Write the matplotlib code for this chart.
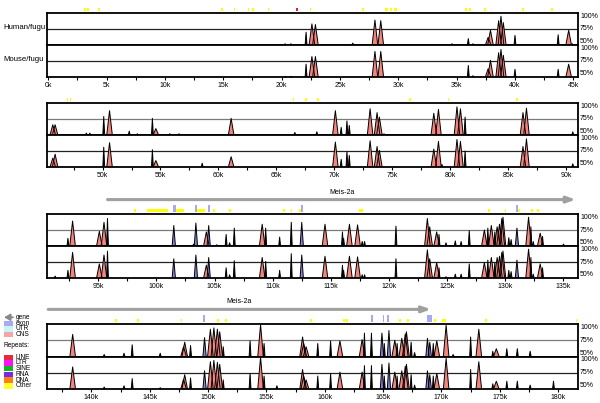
import numpy as np
import matplotlib.pyplot as plt
from matplotlib.transforms import blended_transform_factory

plt.rcParams['font.family'] = ['Liberation Sans', 'DejaVu Sans']

# ---- data (positions in kb, conservation in %) ----
row_start = [-0.1, 45.2, 90.6, 136.2]
row_end = [45.4, 91.05, 136.25, 181.7]
track_names = ["Human/fugu", "Mouse/fugu"]

# row 1
r1_pos = [20.3, 20.8, 22.1, 22.6, 22.9, 26.1, 28.0, 28.5, 34.6, 36.0, 36.4, 37.7, 37.9,
          38.6, 38.8, 39.0, 40.0, 43.7, 44.6, 44.9]
r1_hum = [52, 52, 70, 83, 82, 53, 89, 88, 52, 60, 52, 62, 73, 88, 95, 85, 65, 66, 73, 52]
r1_mou = [51, 51, 70, 82, 82, 50, 90, 90, 50, 68, 52, 63, 76, 88, 93, 84, 62, 62, 70, 50]
r1_type = ['-', '-', '-', 'c', 'c', '-', 'c', 'c', '-', '-', '-', 'c', 'c', 'c', 'c', 'c',
           '-', '-', 'c', '-']

# row 2
r2_pos = [45.7, 45.9, 48.6, 48.9, 50.1, 50.6, 52.3, 53.0, 54.3, 54.6, 55.8, 56.6, 58.6, 61.1,
          66.6, 68.5, 70.1, 70.6, 71.1, 71.3, 73.1, 73.7, 73.9, 74.3, 78.6, 79.0, 79.3, 80.6,
          80.9, 81.3, 86.3, 86.6, 90.6]
r2_hum = [66, 66, 53, 53, 79, 88, 56, 52, 76, 60, 52, 52, 50, 76, 54, 55, 88, 62, 72, 65,
          91, 85, 78, 52, 84, 90, 50, 94, 91, 78, 85, 92, 55]
r2_mou = [64, 70, 50, 50, 81, 88, 50, 50, 77, 60, 50, 50, 56, 66, 50, 50, 89, 62, 74, 68,
          91, 82, 76, 50, 78, 90, 54, 93, 90, 75, 82, 94, 55]
r2_type = ['c', 'c', '-', '-', '-', 'c', '-', '-', '-', 'c', '-', '-', '-', 'c', '-', '-',
           'c', '-', '-', '-', 'c', 'c', 'c', '-', 'c', 'c', '-', 'c', 'c', '-', 'c', 'c', '-']

# row 3
r3_pos = [91.3, 92.4, 92.8, 95.1, 95.5, 95.8, 101.5, 103.2, 103.4, 104.3, 104.5, 105.2, 106.0,
          106.3, 106.7, 109.1, 109.4, 110.6, 111.6, 112.5, 114.5, 116.0, 116.1, 116.6, 117.3,
          117.7, 117.9, 120.6, 123.3, 123.5, 124.1, 124.3, 124.9, 125.7, 126.2, 126.9, 128.2,
          128.5, 128.8, 129.1, 129.3, 129.5, 129.7, 129.8, 130.3, 130.5, 131.0, 132.0, 132.2,
          132.4, 133.0, 133.2, 135.0]
r3_hum = [50, 62, 89, 73, 87, 93, 82, 53, 86, 72, 82, 52, 68, 55, 78, 84, 78, 64, 87, 87,
          84, 72, 62, 84, 83, 57, 57, 81, 93, 80, 72, 68, 55, 58, 57, 74, 75, 78, 82, 72,
          80, 84, 93, 95, 63, 60, 78, 95, 80, 57, 70, 65, 53]
r3_mou = [53, 62, 90, 72, 86, 92, 80, 50, 86, 70, 82, 50, 66, 55, 77, 82, 76, 62, 88, 86,
          84, 70, 62, 84, 83, 55, 55, 80, 94, 80, 74, 66, 52, 56, 56, 72, 74, 78, 82, 74,
          82, 84, 90, 92, 62, 60, 78, 95, 82, 56, 72, 66, 50]
r3_type = ['-', '-', 'c', 'c', 'c', '-', 'e', '-', 'e', 'c', 'e', '-', '-', '-', '-', 'c',
           '-', '-', '-', 'e', 'c', '-', '-', 'c', 'c', '-', '-', '-', 'c', 'c', 'c', '-',
           '-', '-', '-', '-', 'c', '-', 'c', '-', 'c', 'c', 'c', 'c', '-', '-', 'e', 'c',
           '-', '-', 'c', '-', '-']

# row 4
r4_pos = [138.4, 141.1, 142.8, 143.5, 145.9, 147.9, 148.0, 148.5, 149.7, 150.2, 150.5, 150.8,
          151.0, 151.3, 153.6, 154.5, 154.8, 155.9, 158.1, 158.2, 158.4, 159.4, 160.5, 161.3,
          163.2, 163.4, 164.0, 164.9, 165.1, 165.5, 166.0, 166.2, 166.6, 166.9, 167.0, 167.4,
          167.7, 168.8, 169.0, 169.3, 169.6, 170.4, 171.0, 172.5, 173.2, 174.4, 174.7, 175.6,
          176.5, 177.6, 179.6]
r4_hum = [84, 53, 55, 68, 55, 65, 72, 67, 79, 92, 94, 92, 88, 65, 74, 99, 70, 50, 80, 70,
          65, 70, 74, 74, 76, 86, 86, 86, 70, 90, 75, 70, 78, 85, 88, 72, 56, 78, 72, 70,
          74, 98, 53, 80, 92, 58, 62, 62, 62, 58, 50]
r4_mou = [84, 53, 55, 66, 52, 65, 72, 67, 78, 92, 94, 91, 88, 64, 74, 99, 70, 55, 80, 70,
          64, 70, 74, 76, 76, 86, 86, 88, 70, 90, 76, 70, 78, 85, 88, 72, 56, 78, 72, 70,
          74, 97, 50, 80, 92, 58, 62, 62, 62, 56, 62]
r4_type = ['c', '-', '-', '-', '-', 'c', 'c', '-', 'e', 'c', 'c', 'c', 'c', '-', '-', 'c',
           '-', '-', 'c', 'c', 'c', '-', '-', 'c', 'c', '-', '-', 'e', '-', 'e', 'c', '-',
           'c', 'c', 'c', '-', '-', 'e', 'e', '-', 'c', 'c', '-', '-', 'c', '-', 'c', '-',
           '-', '-', '-']

rows = [(r1_pos, r1_hum, r1_mou, r1_type), (r2_pos, r2_hum, r2_mou, r2_type),
        (r3_pos, r3_hum, r3_mou, r3_type), (r4_pos, r4_hum, r4_mou, r4_type)]

# annotation track: (from kb, to kb, kind)  y = other repeat, r = LINE, e = exon
ann = [
    [(3.1, 3.25, 'y'), (3.35, 3.5, 'y'), (4.3, 4.45, 'y'), (14.8, 14.95, 'y'), (15.9, 16.05, 'y'),
     (17.1, 17.25, 'y'), (17.45, 17.6, 'y'), (18.8, 18.95, 'y'), (21.2, 21.45, 'r'),
     (22.4, 22.55, 'y'), (26.9, 27.05, 'y'), (28.9, 29.1, 'y'), (29.3, 29.5, 'y'),
     (29.6, 29.9, 'y'), (35.7, 35.85, 'y'), (36.05, 36.2, 'y'), (37.35, 37.5, 'y'),
     (40.6, 40.75, 'y'), (43.1, 43.25, 'y')],
    [(46.9, 47.05, 'y'), (47.15, 47.3, 'y'), (66.4, 66.55, 'y'), (67.5, 67.65, 'y'),
     (68.5, 68.65, 'y'), (76.5, 76.65, 'y'), (79.8, 79.95, 'y'), (85.7, 85.85, 'y')],
    [(98.1, 98.25, 'y'), (99.2, 101.0, 'y'), (101.7, 102.4, 'y'), (101.45, 101.7, 'e'),
     (103.5, 104.2, 'y'), (103.3, 103.5, 'e'), (104.45, 104.6, 'e'), (104.85, 105.0, 'y'),
     (106.25, 106.4, 'y'), (110.9, 111.05, 'y'), (111.55, 111.7, 'y'), (112.25, 112.4, 'y'),
     (112.45, 112.6, 'e'), (117.45, 117.8, 'y'), (128.55, 128.7, 'y'), (129.95, 130.1, 'y'),
     (131.1, 131.25, 'y'), (130.9, 131.1, 'e'), (132.25, 132.4, 'y'), (132.75, 132.9, 'y')],
    [(142.05, 142.2, 'y'), (143.95, 144.1, 'y'), (147.65, 147.8, 'y'), (149.6, 149.75, 'e'),
     (150.75, 150.9, 'y'), (151.45, 151.6, 'y'), (158.75, 158.9, 'y'), (161.55, 161.7, 'y'),
     (161.85, 162.0, 'y'), (163.95, 164.1, 'e'), (164.95, 165.1, 'e'), (165.35, 165.5, 'e'),
     (166.35, 166.5, 'y'), (167.05, 167.2, 'y'), (168.75, 169.15, 'e'), (169.35, 169.5, 'y'),
     (170.05, 170.2, 'y'), (170.25, 170.4, 'y'), (173.75, 173.9, 'y'), (181.5, 181.65, 'y')],
]

gene_start, gene_end, gene_name = 95.8, 169.1, "Meis-2a"

legend_labels = ["exon", "UTR", "CNS"]
legend_colors = ["#a8a8f4", "#c8f4f4", "#f8a4a4"]
repeat_labels = ["LINE", "LTR", "SINE", "RNA", "DNA", "Other"]
repeat_colors = ["#e8283c", "#ff10ff", "#10b820", "#7a28e8", "#ff8010", "#ffff30"]

# ---- style ----
fill_col = {'c': '#f4847e', 'e': '#8484e4', '-': 'black'}
half_w = {'c': 0.24, 'e': 0.14, '-': 0.08}
ann_col = {'y': '#ffff00', 'r': '#e02030', 'e': '#a8a8f4'}
ann_h = {'y': 0.10, 'r': 0.12, 'e': 0.22}

# pixel rows: (top of track 1, bottom of track 2)
row_px = [(13, 77), (103, 167), (214, 278), (324, 389)]
X0, X1 = 47, 578

fig = plt.figure(figsize=(6, 4.03), dpi=100)


def px_axes(x0, y0, x1, y1):
    return fig.add_axes([x0 / 600, 1 - y1 / 403, (x1 - x0) / 600, (y1 - y0) / 403])


for r, (pos, hum, mou, kinds) in enumerate(rows):
    top, bot = row_px[r]
    mid = (top + bot) / 2
    axs = [px_axes(X0, top, X1, mid), px_axes(X0, mid, X1, bot)]
    for t, (ax, vals) in enumerate(zip(axs, [hum, mou])):
        ax.set_xlim(row_start[r], row_end[r])
        ax.set_ylim(50, 100)
        ax.axhline(75, color='#7a7a7a' if t == 0 and r > 0 else '#222222', lw=0.9, zorder=1)
        for c, h, k in zip(pos, vals, kinds):
            if h <= 50:
                continue
            w = half_w[k]
            xs = [c - w, c, c + w]
            ys = [50, h, 50]
            ax.fill(xs, ys, color=fill_col[k], lw=0, zorder=2)
            ax.plot(xs, ys, color='black', lw=0.7, zorder=3)
        for s in ax.spines.values():
            s.set_linewidth(1.3)
        ax.set_yticks([])
        for yv, lab in [(0.9, "100%"), (0.5, "75%"), (0.1, "50%")]:
            ax.text(1.004, yv, lab, transform=ax.transAxes, fontsize=5, va='center', ha='left')
        if r == 0:
            ax.text(-0.082, 0.55, track_names[t], transform=ax.transAxes, fontsize=5.6,
                    va='center', ha='left')
        if t == 0:
            ax.set_xticks([])
        else:
            first = int(np.ceil(row_start[r] / 2.5)) * 2.5
            ticks = np.arange(first, row_end[r], 2.5)
            ax.set_xticks(ticks)
            ax.set_xticklabels([f"{int(v)}k" if v % 5 == 0 else "" for v in ticks])
            ax.tick_params(axis='x', length=2.5, width=0.8, pad=1, labelsize=5)

    # annotation marks above track 1
    ax = axs[0]
    tr = blended_transform_factory(ax.transData, ax.transAxes)
    for lo, hi, k in ann[r]:
        ax.add_patch(plt.Rectangle((lo, 1.05), hi - lo, ann_h[k], transform=tr,
                                   color=ann_col[k], lw=0, clip_on=False,
                                   zorder=3 if k == 'e' else 2))

    # gene arrow
    g0 = max(gene_start, row_start[r] + 0.1)
    g1 = min(gene_end, row_end[r] - 0.2)
    if g0 < g1:
        ax.annotate("", xy=(g1, 1.45), xytext=(g0, 1.45), xycoords=tr, textcoords=tr,
                    arrowprops=dict(arrowstyle='-|>,head_length=0.5,head_width=0.18',
                                    color='#a0a0a0', lw=2.2, shrinkA=0, shrinkB=0))
        ax.text((g0 + g1) / 2, 1.68, gene_name, transform=tr, fontsize=5, ha='center',
                va='center')

# legend (left of last row)
lax = fig.add_axes([0, 0, 1, 1], facecolor='none')
lax.set_xlim(0, 600)
lax.set_ylim(403, 0)
lax.axis('off')
lax.annotate("", xy=(4, 317.3), xytext=(13, 317.3),
             arrowprops=dict(arrowstyle='-|>,head_length=0.35,head_width=0.2',
                             color='#888888', lw=1.3, shrinkA=0, shrinkB=0))
lax.text(16, 317.3, "gene", fontsize=4.7, va='center')
for i, (lab, col) in enumerate(zip(legend_labels, legend_colors)):
    y = 323.3 + i * 5.6
    lax.add_patch(plt.Rectangle((3.5, y - 2.6), 9.5, 5.2, color=col, lw=0))
    lax.text(16, y, lab, fontsize=4.7, va='center')
lax.text(4, 345.7, "Repeats:", fontsize=4.7, va='center')
for i, (lab, col) in enumerate(zip(repeat_labels, repeat_colors)):
    y = 357.3 + i * 5.7
    lax.add_patch(plt.Rectangle((3.5, y - 2.7), 9.5, 5.4, color=col, lw=0))
    lax.text(16, y, lab, fontsize=4.7, va='center')

fig.savefig("out.png", dpi=100)
